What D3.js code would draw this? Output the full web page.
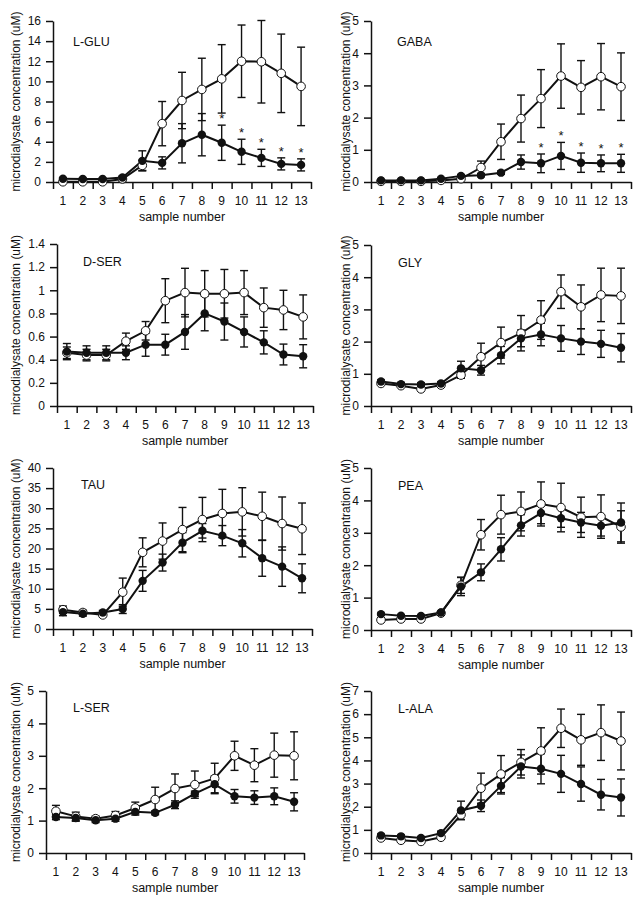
<!DOCTYPE html>
<html>
<head>
<meta charset="utf-8">
<script src="https://cdn.jsdelivr.net/npm/d3@7"></script>
<style>
  body { margin: 0; background: #fff; }
  svg { display: block; }
</style>
</head>
<body>
<svg id="chart" width="638" height="899"></svg>
<script>
// sample numbers on the x axis
let samples = [1, 2, 3, 4, 5, 6, 7, 8, 9, 10, 11, 12, 13];

// L-GLU
let gluOpen = [0.02, 0.02, 0.02, 0.3, 1.65, 5.8, 8.1, 9.2, 10.25, 12.0, 11.95, 10.8, 9.5];
let gluOpenErr = [0.1, 0.1, 0.1, 0.2, 0.5, 2.2, 2.8, 3.1, 3.4, 3.6, 4.1, 3.9, 3.9];
let gluFilled = [0.33, 0.3, 0.3, 0.45, 2.1, 1.9, 3.85, 4.7, 3.9, 3.0, 2.4, 1.8, 1.7];
let gluFilledErr = [0.1, 0.1, 0.1, 0.15, 1.0, 0.6, 1.95, 2.1, 1.75, 1.25, 0.85, 0.6, 0.6];
let gluTicks = [0, 2, 4, 6, 8, 10, 12, 14, 16];
let gluStars = [9, 10, 11, 12, 13];

// GABA
let gabaOpen = [0.02, 0.02, 0.02, 0.05, 0.1, 0.45, 1.25, 1.97, 2.59, 3.29, 2.94, 3.27, 2.96];
let gabaOpenErr = [0.02, 0.02, 0.02, 0.03, 0.05, 0.2, 0.55, 0.73, 0.9, 1.0, 0.83, 1.03, 1.05];
let gabaFilled = [0.05, 0.05, 0.05, 0.1, 0.19, 0.21, 0.29, 0.62, 0.58, 0.81, 0.6, 0.58, 0.58];
let gabaFilledErr = [0.02, 0.02, 0.02, 0.03, 0.04, 0.05, 0.05, 0.22, 0.29, 0.42, 0.3, 0.26, 0.28];
let gabaTicks = [0, 1, 2, 3, 4, 5];
let gabaStars = [9, 10, 11, 12, 13];

// D-SER
let dserOpen = [0.46, 0.44, 0.44, 0.56, 0.65, 0.91, 0.98, 0.97, 0.97, 0.98, 0.85, 0.83, 0.77];
let dserOpenErr = [0.05, 0.05, 0.05, 0.07, 0.08, 0.19, 0.21, 0.2, 0.21, 0.19, 0.17, 0.17, 0.19];
let dserFilled = [0.47, 0.46, 0.46, 0.46, 0.53, 0.53, 0.64, 0.8, 0.73, 0.64, 0.55, 0.445, 0.43];
let dserFilledErr = [0.07, 0.06, 0.06, 0.06, 0.1, 0.09, 0.15, 0.15, 0.16, 0.13, 0.1, 0.09, 0.1];
let dserTicks = [0, 0.2, 0.4, 0.6, 0.8, 1, 1.2, 1.4];

// GLY
let glyOpen = [0.7, 0.63, 0.53, 0.65, 0.96, 1.53, 1.97, 2.26, 2.67, 3.55, 3.08, 3.45, 3.42];
let glyOpenErr = [0.05, 0.05, 0.05, 0.05, 0.1, 0.42, 0.48, 0.55, 0.6, 0.52, 0.68, 0.83, 0.86];
let glyFilled = [0.76, 0.68, 0.67, 0.7, 1.17, 1.11, 1.58, 2.1, 2.22, 2.1, 2.0, 1.93, 1.81];
let glyFilledErr = [0.05, 0.05, 0.05, 0.05, 0.22, 0.15, 0.27, 0.26, 0.35, 0.4, 0.4, 0.42, 0.44];
let glyTicks = [0, 1, 2, 3, 4, 5];

// TAU
let tauOpen = [4.8, 4.1, 3.5, 9.15, 19.05, 21.85, 24.7, 27.2, 28.7, 29.1, 28.0, 26.2, 24.9];
let tauOpenErr = [0.9, 0.6, 0.4, 3.5, 3.6, 4.5, 5.5, 5.5, 6.0, 6.0, 6.0, 6.6, 6.4];
let tauFilled = [4.2, 3.8, 4.1, 4.95, 11.96, 16.5, 21.45, 24.4, 23.2, 21.3, 17.6, 15.5, 12.6];
let tauFilledErr = [0.9, 0.6, 0.5, 1.1, 2.6, 2.1, 2.5, 1.8, 2.5, 3.4, 4.5, 4.9, 3.6];
let tauTicks = [0, 5, 10, 15, 20, 25, 30, 35, 40];

// PEA
let peaOpen = [0.31, 0.34, 0.34, 0.52, 1.38, 2.94, 3.56, 3.66, 3.89, 3.78, 3.48, 3.5, 3.18];
let peaOpenErr = [0.03, 0.03, 0.03, 0.04, 0.25, 0.47, 0.6, 0.6, 0.68, 0.75, 0.62, 0.67, 0.5];
let peaFilled = [0.49, 0.44, 0.43, 0.54, 1.34, 1.78, 2.49, 3.23, 3.61, 3.45, 3.32, 3.22, 3.32];
let peaFilledErr = [0.03, 0.03, 0.03, 0.04, 0.28, 0.26, 0.36, 0.33, 0.33, 0.28, 0.31, 0.32, 0.6];
let peaTicks = [0, 1, 2, 3, 4, 5];

// L-SER
let lserOpen = [1.29, 1.13, 1.06, 1.16, 1.39, 1.65, 1.99, 2.11, 2.3, 3.0, 2.71, 3.02, 3.0];
let lserOpenErr = [0.18, 0.13, 0.08, 0.12, 0.18, 0.38, 0.45, 0.42, 0.47, 0.45, 0.51, 0.68, 0.74];
let lserFilled = [1.11, 1.08, 1.01, 1.06, 1.27, 1.24, 1.49, 1.83, 2.12, 1.75, 1.71, 1.75, 1.58];
let lserFilledErr = [0.08, 0.1, 0.07, 0.08, 0.1, 0.06, 0.12, 0.08, 0.26, 0.21, 0.21, 0.26, 0.28];
let lserTicks = [0, 1, 2, 3, 4, 5];

// L-ALA
let lalaOpen = [0.65, 0.55, 0.5, 0.68, 1.65, 2.8, 3.41, 3.92, 4.41, 5.39, 4.89, 5.2, 4.84];
let lalaOpenErr = [0.05, 0.05, 0.05, 0.06, 0.2, 0.65, 0.8, 0.55, 1.0, 0.83, 1.1, 1.2, 1.25];
let lalaFilled = [0.76, 0.72, 0.65, 0.86, 1.84, 2.04, 2.9, 3.74, 3.64, 3.42, 2.98, 2.52, 2.4];
let lalaFilledErr = [0.06, 0.06, 0.06, 0.08, 0.4, 0.25, 0.35, 0.5, 0.65, 0.8, 0.74, 0.66, 0.8];
let lalaTicks = [0, 1, 2, 3, 4, 5, 6, 7];

let fontFamily = "'Liberation Sans', Arial, Helvetica, sans-serif";

// panel placement on the page
let panels = [
  {name: "L-GLU", open: gluOpen, openErr: gluOpenErr, filled: gluFilled, filledErr: gluFilledErr, ticks: gluTicks, stars: gluStars,
   left: 53, right: 311, top: 21, bottom: 182, labelDx: 20, labelDy: 25, titleX: 16},
  {name: "GABA", open: gabaOpen, openErr: gabaOpenErr, filled: gabaFilled, filledErr: gabaFilledErr, ticks: gabaTicks, stars: gabaStars,
   left: 371, right: 631, top: 21, bottom: 182, labelDx: 26, labelDy: 25, titleX: 346},
  {name: "D-SER", open: dserOpen, openErr: dserOpenErr, filled: dserFilled, filledErr: dserFilledErr, ticks: dserTicks, stars: [],
   left: 57, right: 313, top: 244, bottom: 406, labelDx: 26, labelDy: 22, titleX: 16},
  {name: "GLY", open: glyOpen, openErr: glyOpenErr, filled: glyFilled, filledErr: glyFilledErr, ticks: glyTicks, stars: [],
   left: 371, right: 631, top: 245, bottom: 406, labelDx: 27, labelDy: 22, titleX: 346},
  {name: "TAU", open: tauOpen, openErr: tauOpenErr, filled: tauFilled, filledErr: tauFilledErr, ticks: tauTicks, stars: [],
   left: 53, right: 312, top: 468, bottom: 629, labelDx: 28, labelDy: 21, titleX: 16},
  {name: "PEA", open: peaOpen, openErr: peaOpenErr, filled: peaFilled, filledErr: peaFilledErr, ticks: peaTicks, stars: [],
   left: 371, right: 631, top: 468, bottom: 630, labelDx: 27, labelDy: 22, titleX: 346},
  {name: "L-SER", open: lserOpen, openErr: lserOpenErr, filled: lserFilled, filledErr: lserFilledErr, ticks: lserTicks, stars: [],
   left: 46, right: 304, top: 691, bottom: 853, labelDx: 27, labelDy: 21, titleX: 16},
  {name: "L-ALA", open: lalaOpen, openErr: lalaOpenErr, filled: lalaFilled, filledErr: lalaFilledErr, ticks: lalaTicks, stars: [],
   left: 371, right: 631, top: 691, bottom: 853, labelDx: 27, labelDy: 22, titleX: 346}
];

function drawPanel(svg, p) {
  let g = svg.append("g");

  let x = d3.scaleLinear()
    .domain([0.5, 13.5])
    .range([p.left, p.right]);

  let y = d3.scaleLinear()
    .domain([0, d3.max(p.ticks)])
    .range([p.bottom, p.top]);

  // axes
  let xAxis = g.append("g")
    .attr("transform", "translate(0," + p.bottom + ")")
    .call(d3.axisBottom(x)
      .tickValues(d3.range(0.5, 14, 1))
      .tickFormat("")
      .tickSize(7)
      .tickSizeOuter(0));

  let yAxis = g.append("g")
    .attr("transform", "translate(" + p.left + ",0)")
    .call(d3.axisLeft(y)
      .tickValues(p.ticks)
      .tickFormat(d3.format("~g"))
      .tickSize(7)
      .tickSizeOuter(0)
      .tickPadding(5));

  [xAxis, yAxis].forEach(function(a) {
    a.selectAll("path, line")
      .style("stroke", "#111")
      .style("stroke-width", 1.5);
    a.selectAll("text")
      .style("font-family", fontFamily)
      .style("font-size", "12px")
      .style("fill", "#111");
  });

  // x tick labels in the middle of each slot
  g.selectAll(".xlab")
    .data(samples)
    .enter()
    .append("text")
    .attr("x", d => x(d))
    .attr("y", p.bottom + 23)
    .text(d => d)
    .style("font-family", fontFamily)
    .style("font-size", "12px")
    .style("text-anchor", "middle")
    .style("fill", "#111");

  g.append("text")
    .attr("x", (p.left + p.right) / 2)
    .attr("y", p.bottom + 39)
    .text("sample number")
    .style("font-family", fontFamily)
    .style("font-size", "12.5px")
    .style("text-anchor", "middle")
    .style("fill", "#111");

  g.append("text")
    .attr("transform", "translate(" + p.titleX + "," + ((p.top + p.bottom) / 2) + ") rotate(-90)")
    .attr("dy", "0.35em")
    .text("microdialysate concentration (uM)")
    .style("font-family", fontFamily)
    .style("font-size", "12px")
    .style("text-anchor", "middle")
    .style("fill", "#111");

  g.append("text")
    .attr("x", p.left + p.labelDx)
    .attr("y", p.top + p.labelDy)
    .text(p.name)
    .style("font-family", fontFamily)
    .style("font-size", "12.5px")
    .style("fill", "#111");

  let line = d3.line()
    .x((d, i) => x(samples[i]))
    .y(d => y(d));

  [p.open, p.filled].forEach(function(vals) {
    g.append("path")
      .attr("d", line(vals))
      .style("fill", "none")
      .style("stroke", "#111")
      .style("stroke-width", 2);
  });

  // error bars
  let series = [
    {vals: p.open, err: p.openErr},
    {vals: p.filled, err: p.filledErr}
  ];
  series.forEach(function(s) {
    let bars = g.selectAll(null)
      .data(samples)
      .enter()
      .append("g")
      .style("stroke", "#111")
      .style("stroke-width", 1.4);
    bars.append("line")
      .attr("x1", d => x(d)).attr("x2", d => x(d))
      .attr("y1", (d, i) => y(s.vals[i] + s.err[i]))
      .attr("y2", (d, i) => y(Math.max(0, s.vals[i] - s.err[i])));
    bars.append("line")
      .attr("x1", d => x(d) - 4).attr("x2", d => x(d) + 4)
      .attr("y1", (d, i) => y(s.vals[i] + s.err[i]))
      .attr("y2", (d, i) => y(s.vals[i] + s.err[i]));
    bars.append("line")
      .attr("x1", d => x(d) - 4).attr("x2", d => x(d) + 4)
      .attr("y1", (d, i) => y(Math.max(0, s.vals[i] - s.err[i])))
      .attr("y2", (d, i) => y(Math.max(0, s.vals[i] - s.err[i])));
  });

  // open circles
  g.selectAll(".open")
    .data(p.open)
    .enter()
    .append("circle")
    .attr("cx", (d, i) => x(samples[i]))
    .attr("cy", d => y(d))
    .attr("r", 4.3)
    .style("fill", "#fff")
    .style("stroke", "#111")
    .style("stroke-width", 1);

  // filled circles
  g.selectAll(".filled")
    .data(p.filled)
    .enter()
    .append("circle")
    .attr("cx", (d, i) => x(samples[i]))
    .attr("cy", d => y(d))
    .attr("r", 4.2)
    .style("fill", "#111");

  // significance stars
  g.selectAll(".star")
    .data(p.stars)
    .enter()
    .append("text")
    .attr("x", d => x(d))
    .attr("y", d => y(p.filled[d - 1] + p.filledErr[d - 1]) - 2)
    .text("*")
    .style("font-family", fontFamily)
    .style("font-size", "13px")
    .style("text-anchor", "middle")
    .style("fill", "#111");
}

let svg = d3.select("#chart");
panels.forEach(p => drawPanel(svg, p));
</script>
</body>
</html>
